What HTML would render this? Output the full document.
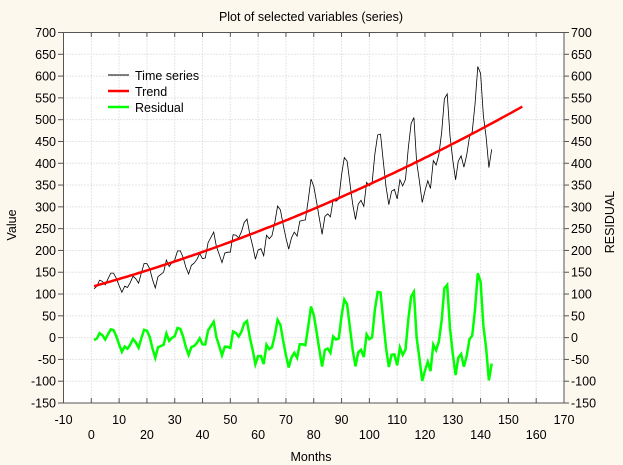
<!DOCTYPE html>
<html><head><meta charset="utf-8"><style>
html,body{margin:0;padding:0;background:#fdf8ee;}
svg{display:block;font-family:"Liberation Sans",Arial,sans-serif;}
</style></head><body>
<svg id="s" width="623" height="465" xmlns="http://www.w3.org/2000/svg">
<rect width="623" height="465" fill="#fdf8ee"/>
<rect x="63.5" y="32.5" width="500.5" height="370.5" fill="#fff"/>
<g id="grid"></g>
<g id="series"></g>
<rect x="63.5" y="32.5" width="500.5" height="370.5" fill="none" stroke="#555" stroke-width="1"/>
<g id="labels" font-size="12.5" fill="#000"></g>
<text x="311" y="21" text-anchor="middle" font-size="12.5">Plot of selected variables (series)</text>
<text x="311" y="461" text-anchor="middle" font-size="12.5">Months</text>
<text transform="translate(16,225) rotate(-90)" text-anchor="middle" font-size="12.5">Value</text>
<text transform="translate(614,222) rotate(-90)" text-anchor="middle" font-size="12.5">RESIDUAL</text>
<line x1="108" y1="75" x2="129" y2="75" stroke="#000" stroke-width="1"/>
<line x1="108" y1="91" x2="129" y2="91" stroke="#f00" stroke-width="2.5"/>
<line x1="108" y1="107" x2="129" y2="107" stroke="#0f0" stroke-width="2.5"/>
<text x="135" y="80" font-size="12.5">Time series</text>
<text x="135" y="96" font-size="12.5">Trend</text>
<text x="135" y="112" font-size="12.5">Residual</text>
</svg>
<script>
var d=[112,118,132,129,121,135,148,148,136,119,104,118,115,126,141,135,125,149,170,170,158,133,114,140,145,150,178,163,172,178,199,199,184,162,146,166,171,180,193,181,183,218,230,242,209,191,172,194,196,196,236,235,229,243,264,272,237,211,180,201,204,188,235,227,234,264,302,293,259,229,203,229,242,233,267,269,270,315,364,347,312,274,237,278,284,277,317,313,318,374,413,405,355,306,271,306,315,301,356,348,355,422,465,467,404,347,305,336,340,318,362,348,363,435,491,505,404,359,310,337,360,342,406,396,420,472,548,559,463,407,362,405,417,391,419,461,472,535,622,606,508,461,390,432];
function X(v){return 63.5+(v+10)*500.5/180;}
function Y(v){return 32.5+(700-v)*370.5/850;}
function tr(x){var u=x-1;return 118+1.792*u+0.005735*u*u;}
var g='',l='';
for(var v=-10;v<=170;v+=10){var x=X(v);
 if(v>-10&&v<170)g+='<line x1="'+x+'" y1="32.5" x2="'+x+'" y2="403" stroke="#ccc" stroke-dasharray="1,2"/>';
 g+='<line x1="'+x+'" y1="32.5" x2="'+x+'" y2="37" stroke="#555"/><line x1="'+x+'" y1="403" x2="'+x+'" y2="398" stroke="#555"/>';
 if(((v+10)/10)%2==0)l+='<text x="'+x+'" y="424" text-anchor="middle">'+v+'</text>';
 else l+='<text x="'+x+'" y="439" text-anchor="middle">'+v+'</text>';}
for(var v=-150;v<=700;v+=50){var y=Y(v);
 if(v>-150&&v<700)g+='<line x1="63.5" y1="'+y+'" x2="564" y2="'+y+'" stroke="#ccc" stroke-dasharray="1,2"/>';
 g+='<line x1="58" y1="'+y+'" x2="63.5" y2="'+y+'" stroke="#555"/><line x1="564" y1="'+y+'" x2="569" y2="'+y+'" stroke="#555"/>';
 l+='<text x="56" y="'+(y+4.5)+'" text-anchor="end">'+v+'</text><text x="571" y="'+(y+4.5)+'">'+v+'</text>';}
document.getElementById('grid').innerHTML=g;
document.getElementById('labels').innerHTML=l;
var p1='',p2='',p3='';
for(var i=0;i<144;i++){var x=i+1;p1+=(i?'L':'M')+X(x).toFixed(1)+','+Y(d[i]).toFixed(1);
 p3+=(i?'L':'M')+X(x).toFixed(1)+','+Y(d[i]-tr(x)).toFixed(1);}
for(var x=1;x<=155;x++)p2+=(x>1?'L':'M')+X(x).toFixed(1)+','+Y(tr(x)).toFixed(1);
document.getElementById('series').innerHTML='<path d="'+p1+'" fill="none" stroke="#000" stroke-width="0.8"/><path d="'+p2+'" fill="none" stroke="#f00" stroke-width="2.5"/><path d="'+p3+'" fill="none" stroke="#0f0" stroke-width="2.5"/>';
</script>
</body></html>
